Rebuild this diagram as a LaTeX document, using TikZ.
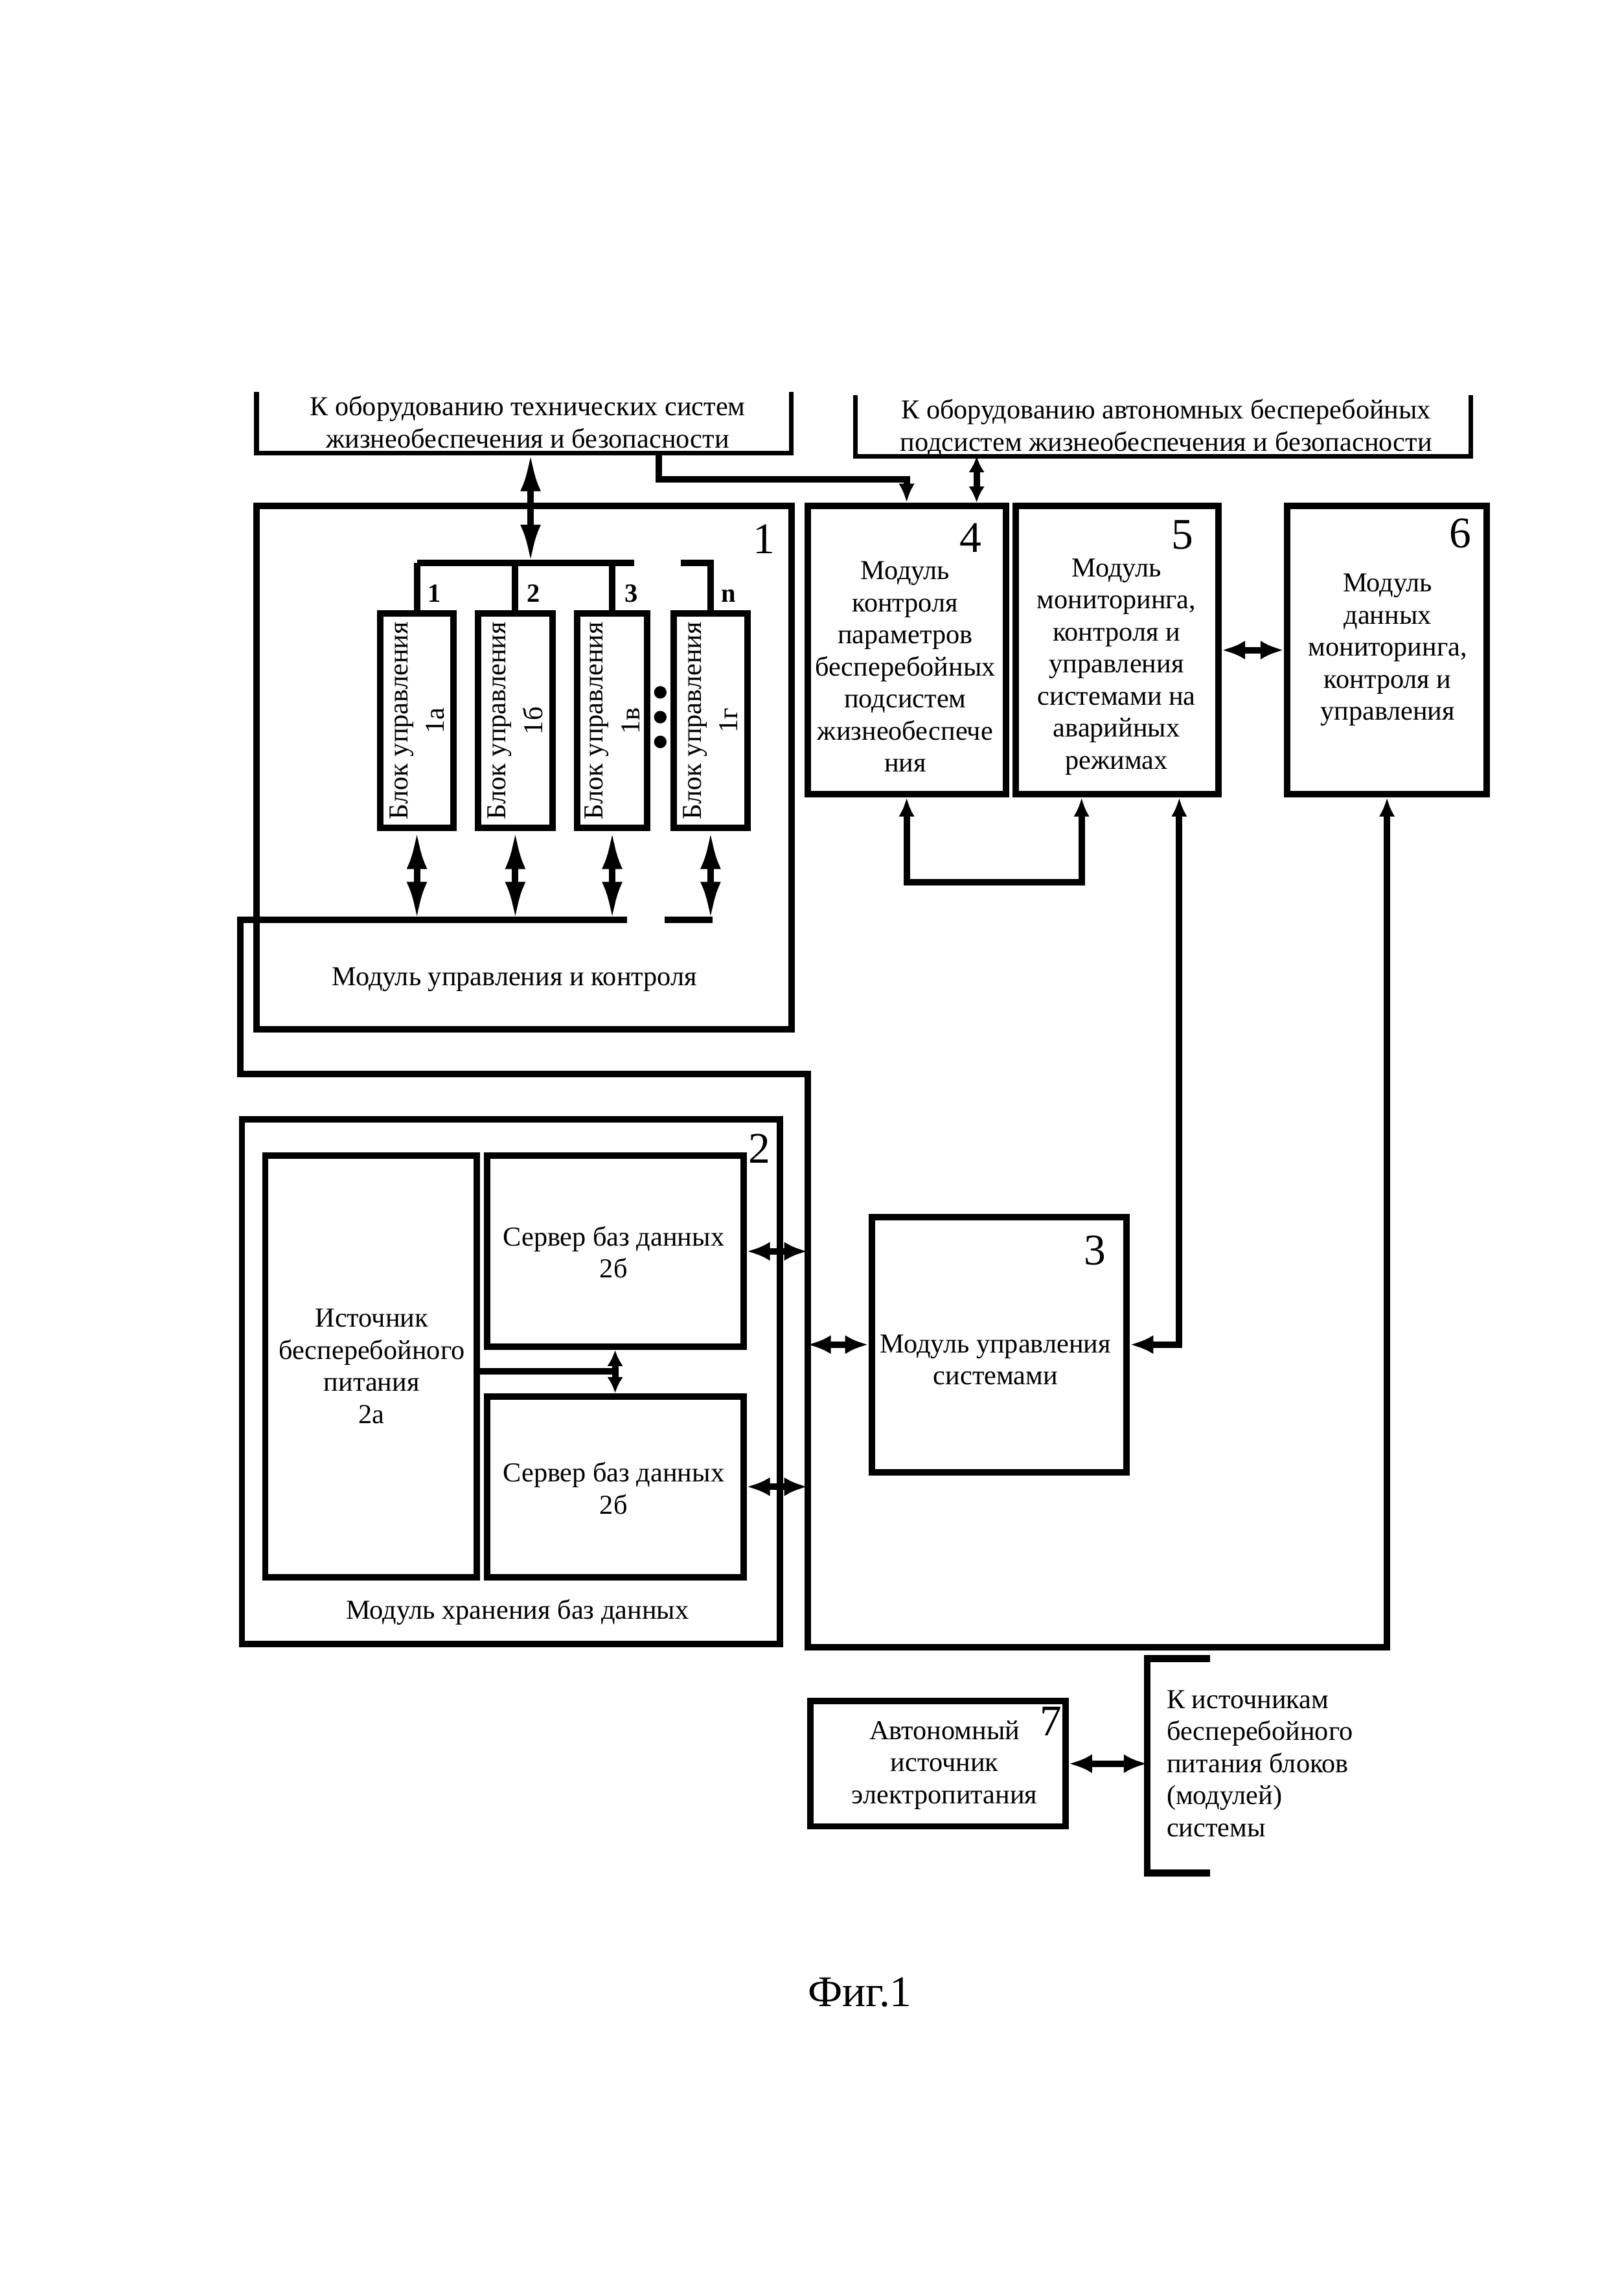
\documentclass[tikz,border=0pt]{standalone}
\usepackage{fontspec}
\setmainfont{Liberation Serif}
\usetikzlibrary{arrows.meta,fit,calc}
\tikzset{
  Tbig/.tip={Latex[length=13pt,width=7pt]},
  Tmid/.tip={Latex[length=8pt,width=6.5pt]},
  Tsm/.tip={Latex[length=6.5pt,width=5.5pt]},
  Tshort/.tip={Latex[length=5.5pt,width=5.5pt]},
}
\begin{document}
\begin{tikzpicture}[x=0.5pt,y=-0.5pt,
  box/.style={draw, line width=2.2pt, inner sep=0pt},
  txt/.style={font=\fontsize{9.4}{11}\selectfont, align=center, inner sep=0pt},
  rtxt/.style={font=\fontsize{9.4}{12.5}\selectfont, align=center, inner sep=0pt, rotate=90},
  num/.style={font=\fontsize{15}{15}\selectfont, inner sep=0pt},
  lab/.style={font=\bfseries\fontsize{9}{9}\selectfont, inner sep=0pt},
  conn/.style={line width=2.2pt},
  brk/.style={line width=1.6pt},
  dotn/.style={circle, fill, inner sep=0pt, minimum size=4.3pt}
]
\useasboundingbox (0,0) rectangle (1114,1567);

% boxes
\node[box, fit={(176,347)(543,706)}] (m1) {};
\node[box, fit={(554,347)(690,545)}] (m4) {};
\node[box, fit={(697,347)(836,545)}] (m5) {};
\node[box, fit={(883,347)(1020,545)}] (m6) {};
\node[box, fit={(166,768)(535,1128)}] (m2) {};
\node[box, fit={(182,793)(327,1082)}] (ups) {};
\node[box, fit={(334,793)(510,924)}] (srv1) {};
\node[box, fit={(334,958)(510,1082)}] (srv2) {};
\node[box, fit={(598,835)(773,1010)}] (m3) {};
\node[box, fit={(556,1167)(731,1253)}] (m7) {};
\node[box, fit={(261,421)(311,568)}] (b1) {};
\node[box, fit={(328,421)(379,568)}] (b2) {};
\node[box, fit={(396,421)(444,568)}] (b3) {};
\node[box, fit={(462,421)(513,568)}] (b4) {};

% top brackets
\node[txt] (tTL) at (362,289.5) {К оборудованию технических систем\\жизнеобеспечения и безопасности};
\node[txt] (tTR) at (800,293.5) {К оборудованию автономных бесперебойных\\подсистем жизнеобеспечения и безопасности};
\draw[brk] (176,269) -- (176,311) -- (543,311) -- (543,269);
\draw[brk] (587,271) -- (587,313) -- (1009,313) -- (1009,271);
\coordinate (tlb) at (452,311);
\coordinate (tlv) at (364,311);
\coordinate (trv) at (670,313);
\coordinate (tbend) at (452,329);

% texts
\node[num] (n1) at (524,370) {1};
\node[num] (n4) at (666,369) {4};
\node[num] (n5) at (811,367) {5};
\node[num] (n6) at (1002,366) {6};
\node[num] (n2) at (521,788) {2};
\node[num] (n3) at (751,858) {3};
\node[num] (n7) at (721,1181) {7};
\node[num] (fig) at (590,1367) {Фиг.1};

\node[txt] (t1) at (353,672) {Модуль управления и контроля};
\node[txt] (t4) at (621,457.5) {Модуль\\контроля\\параметров\\бесперебойных\\подсистем\\жизнеобеспече\\ния};
\node[txt] (t5) at (766,457.5) {Модуль\\мониторинга,\\контроля и\\управления\\системами на\\аварийных\\режимах};
\node[txt] (t6) at (952,446) {Модуль\\данных\\мониторинга,\\контроля и\\управления};
\node[txt] (t3) at (683,933) {Модуль управления\\системами};
\node[txt] (tups) at (255,937.5) {Источник\\бесперебойного\\питания\\2а};
\node[txt] (ts1) at (421,859) {Сервер баз данных\\2б};
\node[txt] (ts2) at (421,1021) {Сервер баз данных\\2б};
\node[txt] (t2) at (355,1106) {Модуль хранения баз данных};
\node[txt] (t7) at (648,1211) {Автономный\\источник\\электропитания};
\node[txt, align=left, anchor=west] (tsrc) at (800,1210) {К источникам\\бесперебойного\\питания блоков\\(модулей)\\системы};

\node[rtxt] (tb1) at (b1.center) {Блок управления\\1а};
\node[rtxt] (tb2) at (b2.center) {Блок управления\\1б};
\node[rtxt] (tb3) at (b3.center) {Блок управления\\1в};
\node[rtxt] (tb4) at (b4.center) {Блок управления\\1г};

\node[lab] (l1) at (298,407) {1};
\node[lab] (l2) at (366,407) {2};
\node[lab] (l3) at (433,407) {3};
\node[lab] (ln) at (500,409) {n};

\node[dotn] (d1) at (453,475) {};
\node[dotn] (d2) at (453,492) {};
\node[dotn] (d3) at (453,509) {};

% upper bus
\coordinate (busL) at (286,386);
\coordinate (busR) at (435,386);
\coordinate (busN) at (467,386);
\draw[conn] (busL) -- (busR);
\draw[conn] (b1.north |- busL) -- (b1.north);
\draw[conn] (b2.north |- busL) -- (b2.north);
\draw[conn] (b3.north |- busL) -- (b3.north);
\draw[conn] (busN) -- (b4.north |- busN) -- (b4.north);
\draw[conn, Tbig-Tbig] (tlv) -- (tlv |- busL);

% lower bus
\coordinate (lbR) at (430,631);
\coordinate (lbL) at (165,631);
\coordinate (lbN1) at (456,631);
\coordinate (lbN2) at (489,631);
\coordinate (c1) at (165,737);
\coordinate (vtop) at (554,737);
\coordinate (vbot) at (554,1130);
\draw[conn] (lbN1) -- (lbN2);
\draw[conn, Tbig-Tbig] (b1.south) -- (b1.south |- lbR);
\draw[conn, Tbig-Tbig] (b2.south) -- (b2.south |- lbR);
\draw[conn, Tbig-Tbig] (b3.south) -- (b3.south |- lbR);
\draw[conn, Tbig-Tbig] (b4.south) -- (b4.south |- lbR);
\draw[conn, -Tsm] (lbR) -- (lbL) -- (c1) -- (vtop) -- (vbot) -| (m6.south);

% top connectors
\draw[conn, -Tsm] (tlb) -- (tbend) -| (m4.north);
\draw[conn, Tshort-Tshort] (trv) -- (trv |- m4.north);

% modules 4,5,6
\draw[conn, Tmid-Tmid] (m5.east) -- (m6.west);
\coordinate (u5) at ($(m5.south)+(-24.5,0)$);
\coordinate (ubot) at ($(m4.south)+(0,58)$);
\draw[conn, Tsm-Tsm] (m4.south) -- (ubot) -| (u5);
\coordinate (v5) at ($(m5.south)+(42.5,0)$);
\draw[conn, Tsm-Tmid] (v5) |- (m3.east);

% module 2 / 3
\draw[conn, Tmid-Tmid] (srv1.east) -- (srv1.east -| vtop);
\draw[conn, Tmid-Tmid] (srv2.east) -- (srv2.east -| vtop);
\draw[conn, Tmid-Tmid] (m3.west -| vtop) -- (m3.west);
\coordinate (upsj) at (327,941);
\draw[conn] (upsj) -- (upsj -| srv1.south);
\draw[conn, Tshort-Tshort] (srv1.south) -- (srv2.north);

% module 7
\coordinate (br) at (787,1210);
\draw[conn, Tmid-Tmid] (m7.east) -- (br);
\draw[line width=2.4pt] (830,1138) -- (787,1138) -- (787,1285) -- (830,1285);
\end{tikzpicture}
\end{document}
